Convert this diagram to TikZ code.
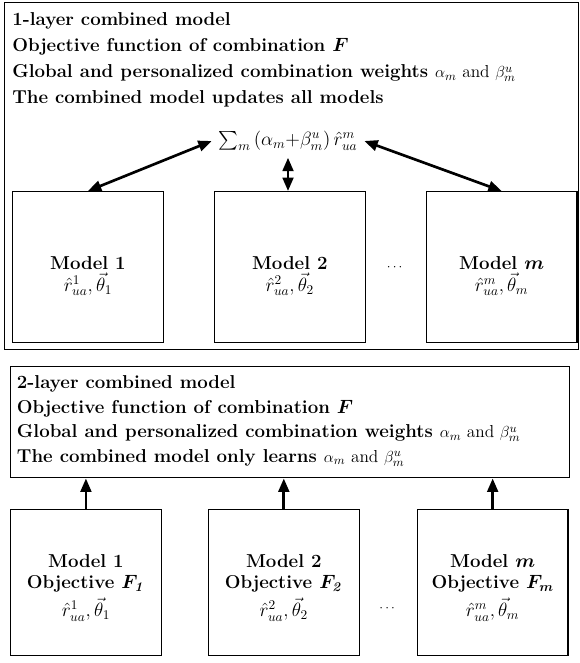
\documentclass[tikz,border=0pt]{standalone}
\usepackage{amsmath,amssymb}
\usepackage{tikz}
\usetikzlibrary{arrows.meta,positioning,calc}

\newcommand{\wts}{{\fontsize{13}{14}\selectfont\mdseries$\alpha_m$ and $\beta^u_m$}}

\begin{document}
\begin{tikzpicture}[
  x=0.75pt, y=-0.75pt,
  frame/.style={draw, line width=1.1pt, anchor=north west, inner sep=0pt},
  title/.style={align=left, inner sep=0pt, font=\fontsize{14}{19.5}\selectfont\bfseries},
  model/.style={draw, line width=0.9pt, minimum width=113pt},
  mtext/.style={align=center, inner sep=0pt, font=\fontsize{14}{16}\selectfont\bfseries},
  dbl/.style={{Triangle[length=10pt,width=8pt]}-{Triangle[length=10pt,width=8pt]}, line width=2pt},
  arr/.style={-{Triangle[length=10pt,width=8pt]}, line width=2pt},
  node distance=0.5cm and 0.35cm
]
\path[use as bounding box, fill=white] (0,0) rectangle (579,663);

% 1-layer combined model
\node[frame, minimum width=430.5pt, minimum height=260pt] (outer) at (4,2) {};
\node[title, below right=8pt and 6pt of outer.north west] (head1)
  {1-layer combined model\\
   Objective function of combination {\boldmath$F$}\\
   Global and personalized combination weights \wts\\
   The combined model updates all models};

\node[font=\fontsize{14}{16}\selectfont, inner sep=5pt] (sum) at (288,141)
  {$\sum_m\,(\alpha_m{+}\beta^u_m)\,\hat{r}^m_{ua}$};

\node[model, minimum height=113.25pt, anchor=north west] (m1) at (12,191) {};
\node[model, minimum height=113.25pt, right=37.5pt of m1] (m2) {};
\node[model, minimum height=113.25pt, right=45pt of m2] (m3) {};
\node[mtext] (t1) at ([yshift=-7pt]m1.center) {Model 1\\ $\hat{r}^1_{ua},\vec{\theta}_1$};
\node[mtext] (t2) at ([yshift=-7pt]m2.center) {Model 2\\ $\hat{r}^2_{ua},\vec{\theta}_2$};
\node[mtext] (t3) at ([yshift=-7pt]m3.center) {Model {\boldmath$m$}\\ $\hat{r}^m_{ua},\vec{\theta}_m$};
\node (dots1) at ($(m2.east)!0.5!(m3.west)$) {$\cdots$};

\draw[dbl] (sum.west) -- (m1.north);
\draw[dbl] (sum.south) -- (sum.south|-m2.north);
\draw[dbl] (sum.east) -- (m3.north);

% 2-layer combined model
\node[frame, minimum width=419.25pt, minimum height=83.25pt] (inner) at (10,366) {};
\node[title, font=\fontsize{14}{18.5}\selectfont\bfseries, below right=7pt and 5pt of inner.north west] (head2)
  {2-layer combined model\\
   Objective function of combination {\boldmath$F$}\\
   Global and personalized combination weights \wts\\
   The combined model only learns \wts};

\node[model, minimum height=109.5pt, anchor=north west] (n1) at (10,509) {};
\node[model, minimum height=109.5pt, right=34.5pt of n1] (n2) {};
\node[model, minimum height=109.5pt, right=42.75pt of n2] (n3) {};
\node[mtext] (u1) at ([yshift=-4pt]n1.center)
  {Model 1\\ Objective {\boldmath$F_{\mathit{1}}$}\\[3pt] $\hat{r}^1_{ua},\vec{\theta}_1$};
\node[mtext] (u2) at ([yshift=-4pt]n2.center)
  {Model 2\\ Objective {\boldmath$F_{\mathit{2}}$}\\[3pt] $\hat{r}^2_{ua},\vec{\theta}_2$};
\node[mtext] (u3) at ([yshift=-4pt]n3.center)
  {Model {\boldmath$m$}\\ Objective {\boldmath$F_m$}\\[3pt] $\hat{r}^m_{ua},\vec{\theta}_m$};
\node (dots2) at ($(n2.east)!0.5!(n3.west)+(0,26)$) {$\cdots$};

\draw[arr] (n1.north) -- (n1.north|-inner.south);
\draw[arr] (n2.north) -- (n2.north|-inner.south);
\draw[arr] (n3.north) -- (n3.north|-inner.south);
\end{tikzpicture}
\end{document}
